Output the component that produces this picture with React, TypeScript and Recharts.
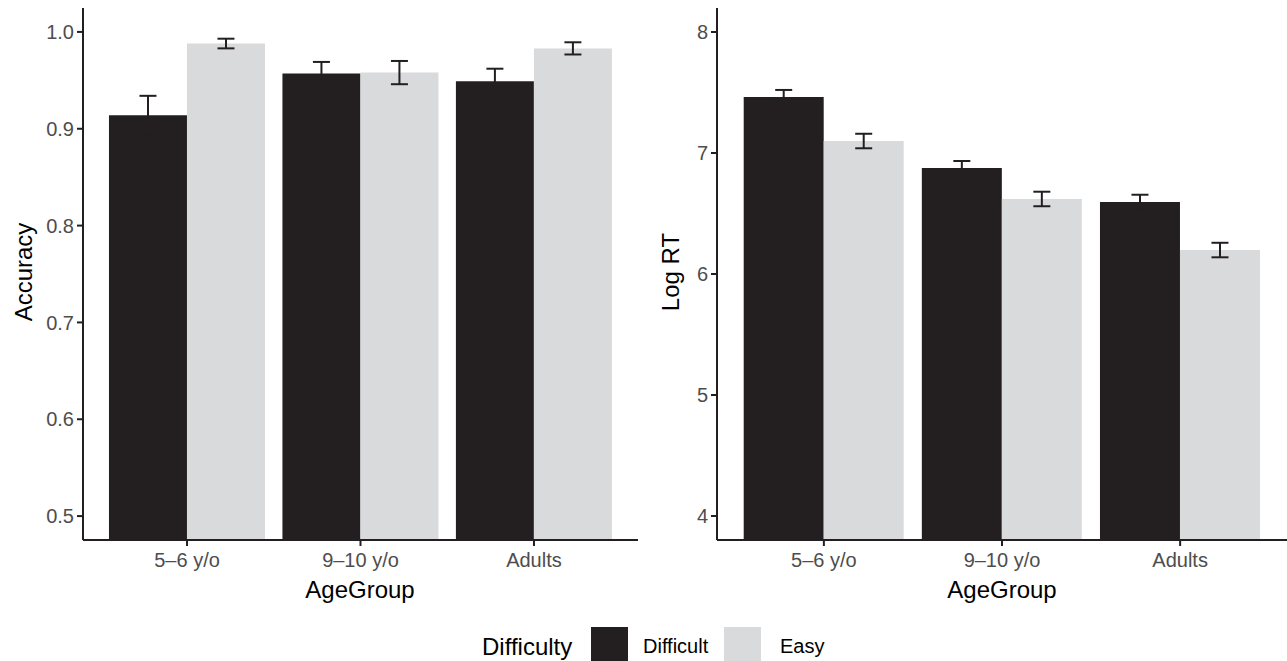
import React from 'react';
import { BarChart, Bar, XAxis, YAxis, ErrorBar } from 'recharts';

const ageGroups = ['5–6 y/o', '9–10 y/o', 'Adults'];
const accDifficult = [0.914, 0.957, 0.949];
const accDifficultErr = [0.02, 0.012, 0.013];
const accEasy = [0.988, 0.958, 0.983];
const accEasyErr = [0.005, 0.012, 0.0063];
const rtDifficult = [7.463, 6.876, 6.595];
const rtDifficultErr = [0.058, 0.058, 0.06];
const rtEasy = [7.099, 6.62, 6.198];
const rtEasyErr = [0.06, 0.06, 0.06];
const accTicks = [0.5, 0.6, 0.7, 0.8, 0.9, 1.0];
const rtTicks = [4, 5, 6, 7, 8];
const seriesNames = ['Difficult', 'Easy'];

const DARK = '#231f20';
const LIGHT = '#d9dadc';
const FONT = '"Liberation Sans", Arial, Helvetica, sans-serif';

const accData = ageGroups.map((g, i) => ({
  group: g,
  difficult: accDifficult[i],
  difficultErr: accDifficultErr[i],
  easy: accEasy[i],
  easyErr: accEasyErr[i],
}));
const rtData = ageGroups.map((g, i) => ({
  group: g,
  difficult: rtDifficult[i],
  difficultErr: rtDifficultErr[i],
  easy: rtEasy[i],
  easyErr: rtEasyErr[i],
}));

const tickStyle = { fontSize: 20, fill: '#4d4d4d', fontFamily: FONT };

function Panel({ data, domain, ticks, yWidth, width, padX, fmt }: any) {
  return (
    <BarChart
      width={width}
      height={600}
      data={data}
      margin={{ top: 8, right: 0, left: 0, bottom: 0 }}
      barCategoryGap="5%"
      barGap={0}
    >
      <XAxis
        dataKey="group"
        height={60}
        padding={{ left: padX, right: padX }}
        tick={tickStyle}
        tickSize={6}
        tickMargin={7}
        stroke={DARK}
        strokeWidth={2}
        axisLine={{ stroke: DARK, strokeWidth: 2 }}
        tickLine={{ stroke: DARK, strokeWidth: 2 }}
      />
      <YAxis
        type="number"
        width={yWidth}
        domain={domain}
        allowDataOverflow
        ticks={ticks}
        tickFormatter={fmt}
        tick={tickStyle}
        tickSize={6}
        tickMargin={3}
        axisLine={{ stroke: DARK, strokeWidth: 2 }}
        tickLine={{ stroke: DARK, strokeWidth: 2 }}
      />
      <Bar dataKey="difficult" fill={DARK} isAnimationActive={false}>
        <ErrorBar dataKey="difficultErr" width={8.5} strokeWidth={2} stroke={DARK} direction="y" isAnimationActive={false} />
      </Bar>
      <Bar dataKey="easy" fill={LIGHT} isAnimationActive={false}>
        <ErrorBar dataKey="easyErr" width={8.5} strokeWidth={2} stroke={DARK} direction="y" isAnimationActive={false} />
      </Bar>
    </BarChart>
  );
}

export default function App() {
  return (
    <div style={{ position: 'absolute', left: 0, top: 0, width: 1287, height: 661, background: '#fff', overflow: 'hidden' }}>
      <div style={{ position: 'absolute', left: 0, top: 0 }}>
        <Panel data={accData} domain={[0.4753, 1.0247]} ticks={accTicks} yWidth={83} width={638} padX={17.3} fmt={(v: number) => v.toFixed(1)} />
      </div>
      <div style={{ position: 'absolute', left: 645, top: 0 }}>
        <Panel data={rtData} domain={[3.8017, 8.1983]} ticks={rtTicks} yWidth={72} width={642} padX={17.8} fmt={(v: number) => String(v)} />
      </div>
      <svg width={1287} height={661} style={{ position: 'absolute', left: 0, top: 0, pointerEvents: 'none' }}>
        <g fontFamily={FONT} fill="#000">
          <text x={0} y={0} fontSize={24} textAnchor="middle" dominantBaseline="central" transform="translate(23,272) rotate(-90)">Accuracy</text>
          <text x={0} y={0} fontSize={24} textAnchor="middle" dominantBaseline="central" transform="translate(670,272) rotate(-90)">Log RT</text>
          <text x={360} y={589} fontSize={24} textAnchor="middle" dominantBaseline="central">AgeGroup</text>
          <text x={1002} y={589} fontSize={24} textAnchor="middle" dominantBaseline="central">AgeGroup</text>
          <text x={482} y={646} fontSize={24} dominantBaseline="central">Difficulty</text>
          <rect x={591} y={627} width={37} height={35} fill={DARK} />
          <text x={643} y={646} fontSize={20} dominantBaseline="central">{seriesNames[0]}</text>
          <rect x={724} y={627} width={37} height={35} fill={LIGHT} />
          <text x={780} y={646} fontSize={20} dominantBaseline="central">{seriesNames[1]}</text>
        </g>
      </svg>
    </div>
  );
}
